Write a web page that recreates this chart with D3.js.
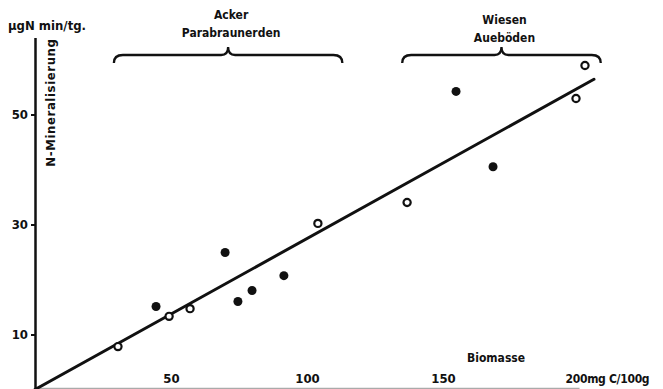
<!DOCTYPE html>
<html>
<head>
<meta charset="utf-8">
<script src="https://cdn.jsdelivr.net/npm/d3@7"></script>
<style>
  body { margin: 0; background: #fff; }
  text { font-family: "DejaVu Sans Condensed", "DejaVu Sans", sans-serif; font-weight: bold; fill: #111; }
</style>
</head>
<body>
<div id="viz"></div>
<script>
// Biomasse (mg C/100g) vs N-Mineralisierung (µg N min/Tag)
const filledX = [44.5, 69.9, 74.6, 79.8, 91.5, 154.8, 168.4];
const filledY = [15.1, 24.9, 16.0, 18.0, 20.7, 54.2, 40.5];
const openX = [30.5, 49.3, 57.0, 104.0, 136.8, 198.9, 202.2];
const openY = [7.8, 13.3, 14.7, 30.2, 34.0, 52.9, 58.9];

// regression line endpoints
const fitX = [0, 205.5];
const fitY = [0, 56.4];

const xTicks = [50, 100, 150, 200];
const yTicks = [10, 30, 50];

const groups = ["Acker|Parabraunerden", "Wiesen|Aueböden"];
const groupFrom = [29, 135];
const groupTo = [113, 208];

const width = 663;
const height = 389;

const svg = d3.select("#viz")
    .append("svg")
    .attr("width", width)
    .attr("height", height);

const x = d3.scaleLinear().domain([0, 200]).range([35, 579]);
const y = d3.scaleLinear().domain([0, 64]).range([389.5, 37.5]);

// x axis (faint, at bottom edge)
const xAxis = svg.append("g")
    .attr("transform", `translate(0,${y(0) - 1.5})`)
    .call(d3.axisBottom(x).tickValues(xTicks).tickSize(0).tickFormat(d => d === 200 ? "200mg C/100g" : d));
xAxis.select(".domain").attr("stroke", "#aaa").attr("stroke-width", 1.5);
xAxis.selectAll(".tick text")
    .attr("font-size", 13)
    .attr("y", -5)
    .attr("dy", 0)
    .attr("fill", "#111");
xAxis.selectAll(".tick").filter(d => d === 200).select("text")
    .attr("text-anchor", "start")
    .attr("font-size", 12)
    .attr("letter-spacing", -0.3)
    .attr("dx", -14);

// y axis
const yAxis = svg.append("g")
    .attr("transform", `translate(${x(0)},0)`)
    .call(d3.axisLeft(y).tickValues(yTicks).tickSize(4).tickSizeOuter(0).tickPadding(3));
yAxis.select(".domain").attr("stroke", "#111").attr("stroke-width", 2.5);
yAxis.selectAll(".tick line").attr("stroke", "#111").attr("stroke-width", 2);
yAxis.selectAll(".tick text").attr("font-size", 13).attr("fill", "#111");

// axis titles
svg.append("text")
    .attr("x", 8).attr("y", 30)
    .attr("font-size", 13)
    .text("µgN min/tg.");

svg.append("text")
    .attr("transform", `translate(55,${y(64) + 1}) rotate(-90)`)
    .attr("text-anchor", "end")
    .attr("font-size", 13)
    .attr("letter-spacing", 0.6)
    .text("N-Mineralisierung");

svg.append("text")
    .attr("x", 467).attr("y", 362)
    .attr("font-size", 12)
    .text("Biomasse");

// regression line
svg.append("line")
    .attr("x1", x(fitX[0])).attr("y1", y(fitY[0]))
    .attr("x2", x(fitX[1])).attr("y2", y(fitY[1]))
    .attr("stroke", "#111")
    .attr("stroke-width", 3)
    .attr("stroke-linecap", "round");

// points
svg.selectAll(".filled")
    .data(filledX.map((d, i) => [d, filledY[i]]))
    .enter().append("circle")
    .attr("class", "filled")
    .attr("cx", d => x(d[0]))
    .attr("cy", d => y(d[1]))
    .attr("r", 4.5)
    .attr("fill", "#111");

svg.selectAll(".open")
    .data(openX.map((d, i) => [d, openY[i]]))
    .enter().append("circle")
    .attr("class", "open")
    .attr("cx", d => x(d[0]))
    .attr("cy", d => y(d[1]))
    .attr("r", 3.6)
    .attr("fill", "#fff")
    .attr("stroke", "#111")
    .attr("stroke-width", 2.2);

// group brackets
const bTop = 55, bEnd = 63, bCusp = 47;
groups.forEach((g, i) => {
    const x0 = x(groupFrom[i]), x1 = x(groupTo[i]), xm = (x0 + x1) / 2;
    const p = d3.path();
    p.moveTo(x0, bEnd);
    p.quadraticCurveTo(x0, bTop, x0 + 9, bTop);
    p.lineTo(xm - 7, bTop);
    p.quadraticCurveTo(xm, bTop, xm, bCusp);
    p.quadraticCurveTo(xm, bTop, xm + 7, bTop);
    p.lineTo(x1 - 9, bTop);
    p.quadraticCurveTo(x1, bTop, x1, bEnd);
    svg.append("path")
        .attr("d", p.toString())
        .attr("fill", "none")
        .attr("stroke", "#111")
        .attr("stroke-width", 2.3);

    const lines = g.split("|");
    const baseY = i === 0 ? 19 : 24;
    lines.forEach((t, j) => {
        svg.append("text")
            .attr("x", xm + 3)
            .attr("y", baseY + j * 18)
            .attr("text-anchor", "middle")
            .attr("font-size", 12)
            .text(t);
    });
});
</script>
</body>
</html>
